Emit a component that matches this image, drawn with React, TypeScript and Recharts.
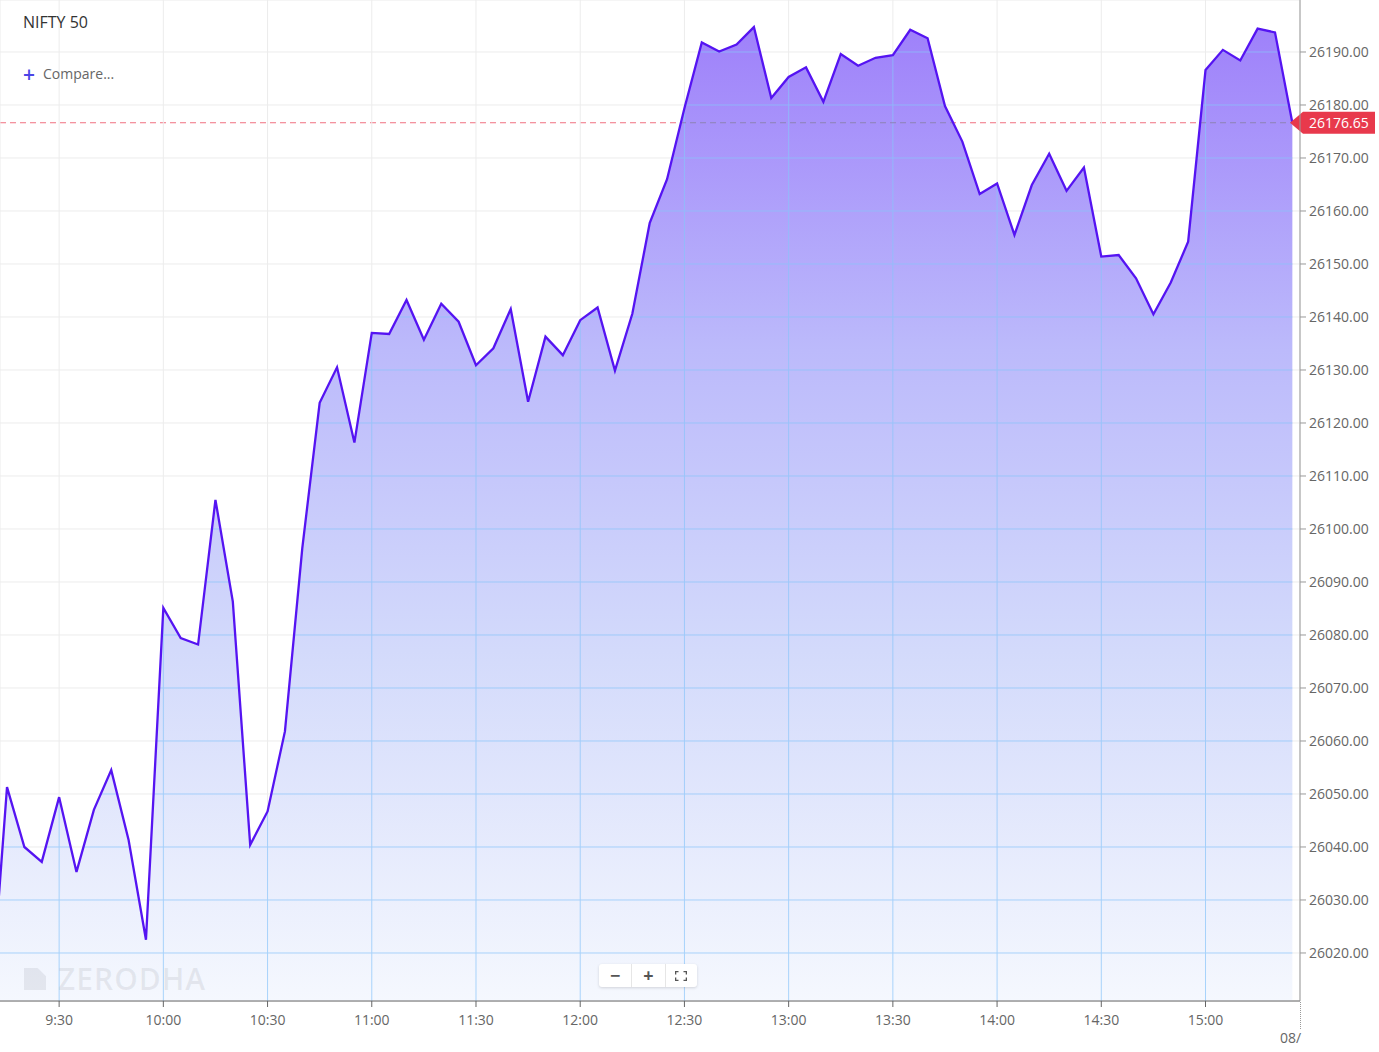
import React from 'react';
import { ComposedChart, Area, Line, XAxis, YAxis, CartesianGrid, ReferenceLine } from 'recharts';

const times = [
  '9:10', '9:15', '9:20', '9:25', '9:30', '9:35', '9:40', '9:45', '9:50', '9:55',
  '10:00', '10:05', '10:10', '10:15', '10:20', '10:25', '10:30', '10:35', '10:40', '10:45', '10:50', '10:55',
  '11:00', '11:05', '11:10', '11:15', '11:20', '11:25', '11:30', '11:35', '11:40', '11:45', '11:50', '11:55',
  '12:00', '12:05', '12:10', '12:15', '12:20', '12:25', '12:30', '12:35', '12:40', '12:45', '12:50', '12:55',
  '13:00', '13:05', '13:10', '13:15', '13:20', '13:25', '13:30', '13:35', '13:40', '13:45', '13:50', '13:55',
  '14:00', '14:05', '14:10', '14:15', '14:20', '14:25', '14:30', '14:35', '14:40', '14:45', '14:50', '14:55',
  '15:00', '15:05', '15:10', '15:15', '15:20', '15:25',
];

const prices = [
  26007.3, 26051.3, 26040.0, 26037.2, 26049.4, 26035.3, 26047.0, 26054.5, 26041.3, 26022.5,
  26085.1, 26079.4, 26078.2, 26105.5, 26086.3, 26040.4, 26046.7, 26061.8, 26096.4, 26123.8, 26130.5, 26116.3,
  26137.0, 26136.8, 26143.2, 26135.7, 26142.5, 26139.1, 26130.9, 26134.1, 26141.5, 26124.0, 26136.3, 26132.8,
  26139.4, 26141.8, 26129.9, 26140.6, 26157.7, 26166.0, 26179.4, 26191.8, 26190.1, 26191.4, 26194.7, 26181.3,
  26185.3, 26187.1, 26180.6, 26189.6, 26187.4, 26188.9, 26189.4, 26194.2, 26192.6, 26179.8, 26173.1, 26163.2,
  26165.2, 26155.5, 26164.9, 26170.8, 26163.8, 26168.2, 26151.4, 26151.7, 26147.3, 26140.5, 26146.5, 26154.2,
  26186.6, 26190.4, 26188.4, 26194.4, 26193.7, 26176.65,
];

const xTickLabels = ['9:30', '10:00', '10:30', '11:00', '11:30', '12:00', '12:30', '13:00', '13:30', '14:00', '14:30', '15:00'];
const yTickValues = [26020, 26030, 26040, 26050, 26060, 26070, 26080, 26090, 26100, 26110, 26120, 26130, 26140, 26150, 26160, 26170, 26180, 26190];
const lastPrice = 26176.65;
const dateStub = '08/';

const toMin = (s: string) => {
  const [h, m] = s.split(':').map(Number);
  return h * 60 + m;
};
const fromMin = (v: number) => `${Math.floor(v / 60)}:${String(Math.round(v % 60)).padStart(2, '0')}`;

const data = times.map((t, i) => ({ t: toMin(t), v: prices[i] }));
const xTicks = xTickLabels.map(toMin);

const CW = 1379;
const CH = 1052;
const YW = 79;
const XH = 51;
const PW = CW - YW;
const PH = CH - XH;
const X_MIN = 552.98;
const X_MAX = 927.2;
const Y_MIN = 26010.94;
const Y_MAX = 26199.81;

// patterns derived from the same domains as the axes
const xStep = (30 * PW) / (X_MAX - X_MIN);
const xOff = ((xTicks[0] - X_MIN) * PW) / (X_MAX - X_MIN);
const yStep = (10 * PH) / (Y_MAX - Y_MIN);
const yOff = ((Y_MAX - yTickValues[yTickValues.length - 1]) * PH) / (Y_MAX - Y_MIN);
const priceY = ((Y_MAX - lastPrice) * PH) / (Y_MAX - Y_MIN);

const FONT = '"Open Sans", "Noto Sans", sans-serif';

const renderPriceTag = (props: any) => {
  const vb = props.viewBox || {};
  const x = (vb.x || 0) + (vb.width || 0);
  const y = vb.y || 0;
  return (
    <g>
      <path
        d={`M${x - 10},${y} L${x + 3},${y - 11} L${x + 75},${y - 11} L${x + 75},${y + 11} L${x + 3},${y + 11} Z`}
        fill="#e8394c"
      />
      <text x={x + 9} y={y} dy="0.36em" fill="#ffffff" fontSize={14} fontFamily={FONT}>
        {lastPrice.toFixed(2)}
      </text>
    </g>
  );
};

export default function App() {
  return (
    <div style={{ position: 'absolute', left: 0, top: 0, width: CW, height: CH, background: '#fff', overflow: 'hidden', fontFamily: FONT }}>
      <ComposedChart width={CW} height={CH} data={data} margin={{ top: 0, right: 0, bottom: 0, left: 0 }}>
        <defs>
          <linearGradient id="mount" gradientUnits="userSpaceOnUse" x1="0" y1="0" x2="0" y2={PH}>
            <stop offset="0" stopColor="#9c7cfa" />
            <stop offset="0.35" stopColor="#bcbafb" />
            <stop offset="0.65" stopColor="#d3dafb" />
            <stop offset="1" stopColor="#f5f8fe" />
          </linearGradient>
          <pattern id="gridPat" patternUnits="userSpaceOnUse" x={xOff - 0.5} y={yOff - 0.5} width={xStep} height={yStep}>
            <rect x={0} y={0} width={xStep} height={1} fill="rgba(135,195,250,0.7)" />
            <rect x={0} y={1} width={1} height={yStep - 1} fill="rgba(135,195,250,0.7)" />
          </pattern>
          <pattern id="dashPat" patternUnits="userSpaceOnUse" x={0} y={0} width={10} height={CH}>
            <rect x={0} y={priceY - 0.5} width={6} height={1} fill="#8c82b4" />
          </pattern>
          <pattern id="redDashPat" patternUnits="userSpaceOnUse" x={0} y={0} width={10} height={CH}>
            <rect x={0} y={priceY - 0.5} width={6} height={1} fill="#f07080" />
          </pattern>
        </defs>
        <CartesianGrid stroke="#ececec" strokeWidth={1} fill="url(#redDashPat)" fillOpacity={1} />
        <XAxis
          dataKey="t"
          type="number"
          domain={[X_MIN, X_MAX]}
          allowDataOverflow
          ticks={xTicks}
          tickFormatter={fromMin}
          height={XH}
          stroke="#666"
          tickLine={{ stroke: '#666' }}
          axisLine={{ stroke: '#666' }}
          tickMargin={8}
          tick={{ fill: '#666', fontSize: 14, fontFamily: FONT }}
          interval={0}
        />
        <YAxis
          orientation="right"
          type="number"
          domain={[Y_MIN, Y_MAX]}
          allowDataOverflow
          ticks={yTickValues}
          tickFormatter={(v: number) => v.toFixed(2)}
          width={YW}
          axisLine={{ stroke: '#999' }}
          tickLine={{ stroke: '#999' }}
          tickMargin={3}
          tick={{ fill: '#666', fontSize: 14, fontFamily: FONT, textAnchor: 'start' }}
          interval={0}
        />
        <Area type="linear" dataKey="v" stroke="none" fill="url(#mount)" fillOpacity={1} isAnimationActive={false} activeDot={false} />
        <Area type="linear" dataKey="v" stroke="none" fill="url(#gridPat)" fillOpacity={1} isAnimationActive={false} activeDot={false} />
        <Area type="linear" dataKey="v" stroke="none" fill="url(#dashPat)" fillOpacity={1} isAnimationActive={false} activeDot={false} />
        <Line type="linear" dataKey="v" stroke="#5514f2" strokeWidth={2.3} dot={false} activeDot={false} isAnimationActive={false} />
        <ReferenceLine y={lastPrice} stroke="none" strokeOpacity={0} label={renderPriceTag} />
      </ComposedChart>

      {/* title + compare */}
      <div style={{ position: 'absolute', left: 23, top: 11, fontSize: 16, lineHeight: '22px', color: '#333' }}>NIFTY 50</div>
      <div style={{ position: 'absolute', left: 23, top: 62, height: 24, display: 'flex', alignItems: 'center' }}>
        <span style={{ fontSize: 21, fontWeight: 600, color: '#4b45e6', lineHeight: '24px', marginRight: 8 }}>+</span>
        <span style={{ fontSize: 14, color: '#666', lineHeight: '24px' }}>Compare...</span>
      </div>

      {/* watermark */}
      <div style={{ position: 'absolute', left: 24, top: 966, display: 'flex', alignItems: 'center', pointerEvents: 'none' }}>
        <div style={{ width: 22, height: 22, background: 'rgba(110,110,120,0.12)', clipPath: 'polygon(0 0, 62% 0, 100% 38%, 100% 100%, 0 100%)', marginRight: 12 }} />
        <span style={{ fontSize: 30, fontWeight: 600, color: 'rgba(110,110,120,0.12)', lineHeight: '26px', letterSpacing: 1 }}>ZERODHA</span>
      </div>

      {/* zoom controls */}
      <div
        style={{
          position: 'absolute', left: 599, top: 964, width: 98, height: 23, background: '#fff', borderRadius: 3,
          boxShadow: '0 1px 3px rgba(0,0,0,0.15)', display: 'flex', alignItems: 'center', color: '#555',
        }}
      >
        <div style={{ width: 33, textAlign: 'center', fontSize: 18, fontWeight: 700, lineHeight: '23px', borderRight: '1px solid #e6e6e6' }}>−</div>
        <div style={{ width: 33, textAlign: 'center', fontSize: 18, fontWeight: 700, lineHeight: '23px', borderRight: '1px solid #e6e6e6' }}>+</div>
        <div style={{ width: 32, display: 'flex', justifyContent: 'center', alignItems: 'center' }}>
          <svg width="12" height="10" viewBox="0 0 12 10">
            <path d="M0.5 3.5 V0.5 H3.5 M8.5 0.5 H11.5 V3.5 M11.5 6.5 V9.5 H8.5 M3.5 9.5 H0.5 V6.5" fill="none" stroke="#555" strokeWidth="1.6" />
          </svg>
        </div>
      </div>

      {/* date stub at right end of x axis */}
      <div style={{ position: 'absolute', left: 1300, top: 1002, height: 27, borderLeft: '1px dotted #999' }} />
      <div style={{ position: 'absolute', left: 1280, top: 1028, whiteSpace: 'nowrap', fontSize: 14, lineHeight: '20px', color: '#666' }}>{dateStub}</div>
    </div>
  );
}
